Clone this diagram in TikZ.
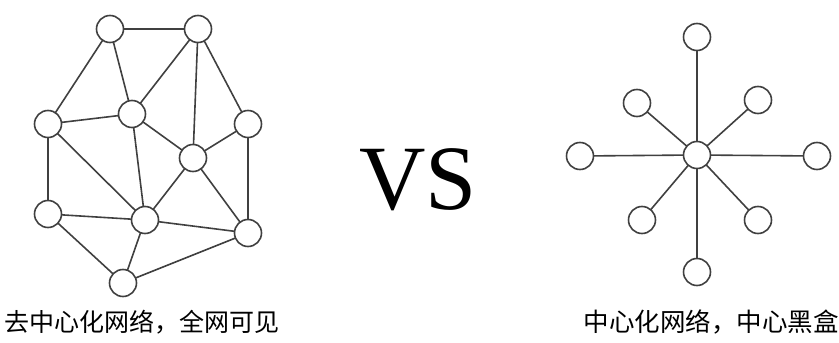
\documentclass[tikz,border=0pt]{standalone}
\usepackage{fontspec}
\setmainfont{Liberation Serif}
\newfontfamily\cjk{Noto Sans CJK SC}
\usetikzlibrary{backgrounds}
\begin{document}
\begin{tikzpicture}[x=1pt,y=-1pt,
  vtx/.style={circle,draw=black!75,line width=1.6pt,fill=white,minimum size=27pt,inner sep=0pt},
  edge/.style={draw=black!75,line width=1.6pt}]
\useasboundingbox (0,0) rectangle (839,343);
% left network
\node[vtx] (A) at (110,29) {};
\node[vtx] (B) at (198,29) {};
\node[vtx] (C) at (48,124) {};
\node[vtx] (D) at (132,114) {};
\node[vtx] (E) at (248,124) {};
\node[vtx] (F) at (193,158) {};
\node[vtx] (G) at (48,214) {};
\node[vtx] (H) at (145,220) {};
\node[vtx] (I) at (248,233) {};
\node[vtx] (J) at (123,283) {};
\begin{scope}[on background layer]
\foreach \u/\v in {A/B,A/C,A/D,B/D,B/F,B/E,C/D,C/G,C/H,D/H,D/F,E/F,E/I,F/H,F/I,G/H,G/J,H/J,H/I,I/J}
  \draw[edge] (\u.center) -- (\v.center);
\end{scope}
% right star
\node[vtx] (c) at (697,155) {};
\node[vtx] (n) at (697,37) {};
\node[vtx] (s) at (697,272) {};
\node[vtx] (w) at (580,156) {};
\node[vtx] (e) at (817,156) {};
\node[vtx] (nw) at (637,103) {};
\node[vtx] (ne) at (758,100) {};
\node[vtx] (sw) at (642,220) {};
\node[vtx] (se) at (758,220) {};
\begin{scope}[on background layer]
\foreach \v in {n,s,w,e,nw,ne,sw,se}
  \draw[edge] (c.center) -- (\v.center);
\end{scope}
% VS
\node (vs) at (418,180) {\fontsize{92}{92}\selectfont VS};
% captions
\node (lc) at (142,322) {\cjk\fontsize{25}{25}\selectfont 去中心化网络，全网可见};
\node (rc) at (711,322) {\cjk\fontsize{25.5}{25.5}\selectfont 中心化网络，中心黑盒};
\end{tikzpicture}
\end{document}
